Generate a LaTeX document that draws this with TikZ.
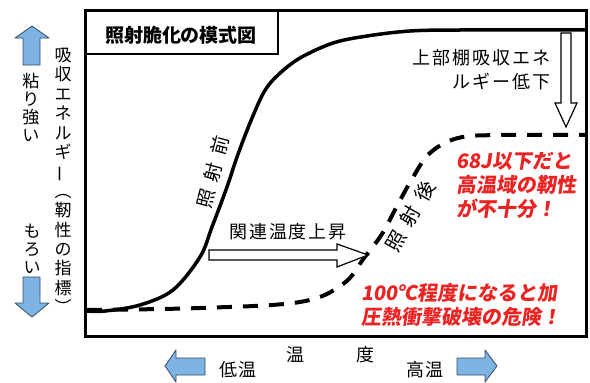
\documentclass[tikz,border=0pt]{standalone}
\usepackage{graphicx}
\usepackage{fontspec}
\newfontfamily\jp{Noto Sans CJK JP}
\newfontfamily\jpls[LetterSpace=11]{Noto Sans CJK JP}
\newfontfamily\jpsl[FakeSlant=0.15]{Noto Sans CJK JP}
\definecolor{ablue}{RGB}{125,180,228}
\definecolor{aedge}{RGB}{55,75,100}
\definecolor{tred}{RGB}{235,35,35}
\newcommand{\gapch}[1]{\hspace{#1}}
\newcommand{\vchoon}{\rotatebox[origin=c]{90}{ー}}
\begin{document}
\begin{tikzpicture}[x=1pt,y=-1pt,
  frame/.style={line width=3pt},
  curve/.style={line width=3.5pt, line cap=round},
  dcurve/.style={line width=4pt, dash pattern=on 15pt off 11pt},
  barrow/.style={fill=ablue, draw=aedge, line width=0.8pt, line join=round},
  harrow/.style={fill=white, draw=black, line width=1.2pt, line join=miter},
  lbl/.style={font=\jpls\fontsize{18}{24}\selectfont, inner sep=0pt},
  clbl/.style={font=\jp\fontsize{19}{24}\selectfont, inner sep=0pt},
  vlbl/.style={font=\jp\fontsize{17}{19.4}\selectfont, align=center, inner sep=0pt},
  vlbls/.style={font=\jp\fontsize{17}{18}\selectfont, align=center, inner sep=0pt},
  redt/.style={font=\jpsl\bfseries\fontsize{20}{24}\selectfont, text=tred, align=left, inner sep=0pt, anchor=west},
]
\useasboundingbox (0,0) rectangle (590,383);
\fill[white] (0,0) rectangle (590,383);

% frame and title box
\draw[frame] (85,10) rectangle (586,336);
\draw[line width=2.5pt] (85,54) -- (278,54) -- (278,10);
\node[font=\jp\bfseries\fontsize{19}{22}\selectfont, inner sep=0pt] (title) at (181,35) {照射脆化の模式図};

% dashed curve (after irradiation)
\draw[dcurve] plot[smooth, tension=0.6] coordinates {(87,310) (200,308) (300,302) (343,284) (364,258) (382,234) (396,208) (412,179) (430,153) (458,138) (500,135) (586,135)};

% solid curve (before irradiation)
\draw[curve] plot[smooth, tension=0.55] coordinates {(87,311) (105,311) (140,305) (173,290) (200,257) (212,227) (227,187) (237,157) (250,123) (264,92) (278,75) (300,58) (333,43) (367,36) (410,31) (460,30) (586,30)};

% hollow arrows
\draw[harrow] (209,250) -- (337,250) -- (337,244) -- (368,255) -- (337,267) -- (337,260) -- (209,260) -- cycle;
\draw[harrow] (561,33) -- (561,103) -- (555,103) -- (566,127) -- (577,103) -- (571,103) -- (571,33) -- cycle;

% blue arrows
\draw[barrow] (23,65) -- (23,38) -- (15,38) -- (32,26) -- (49,38) -- (40,38) -- (40,65) -- cycle;
\draw[barrow] (23,277) -- (23,303) -- (15,303) -- (32,317) -- (49,303) -- (40,303) -- (40,277) -- cycle;
\draw[barrow] (205,358) -- (176,358) -- (176,350) -- (165,366) -- (176,382) -- (176,375) -- (205,375) -- cycle;
\draw[barrow] (457,358) -- (485,358) -- (485,350) -- (497,366) -- (485,382) -- (485,375) -- (457,375) -- cycle;

% curve labels
\node[clbl, rotate=75] (before) at (213,172) {照\gapch{8pt}射\gapch{8pt}前};
\node[clbl, font=\jp\fontsize{20}{24}\selectfont, rotate=60] (after) at (410,216) {照\gapch{9pt}射\gapch{9pt}後};
\node[lbl] (shift) at (288,232) {関連温度上昇};
\node[lbl, align=right, anchor=east] (upper) at (551,70) {上部棚吸収エネ\\ルギー低下};

% red notes
\node[redt] (note1) at (456,185) {68J以下だと\\高温域の靭性\\が不十分！};
\node[redt] (note2) at (361,305) {100℃程度になると加\\圧熱衝撃破壊の危険！};

% vertical axis labels
\node[vlbl] (yaxis) at (63,181) {吸\\収\\エ\\ネ\\ル\\ギ\\\vchoon\\︵\\靭\\性\\の\\指\\標\\︶};
\node[vlbls] (tough) at (31,107) {粘\\り\\強\\い};
\node[vlbls] (brittle) at (32,249) {も\\ろ\\い};

% horizontal axis labels
\node[lbl] (t1) at (295,355) {温};
\node[lbl] (t2) at (365,355) {度};
\node[lbl] (low) at (238,370) {低温};
\node[lbl] (high) at (425,370) {高温};
\end{tikzpicture}
\end{document}
